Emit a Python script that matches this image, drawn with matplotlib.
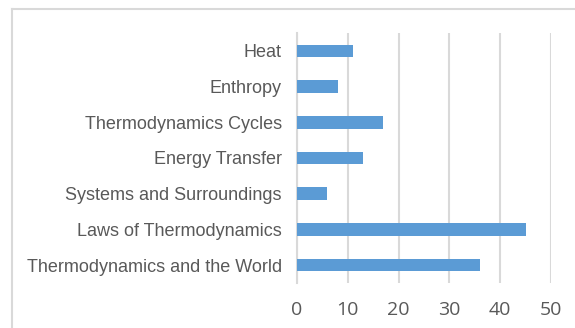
import matplotlib.pyplot as plt
from matplotlib.lines import Line2D

# Topics and counts, listed bottom to top
topics = ["Thermodynamics and the World", "Laws of Thermodynamics",
          "Systems and Surroundings", "Energy Transfer",
          "Thermodynamics Cycles", "Enthropy", "Heat"]
counts = [36, 45, 6, 13, 17, 8, 11]
xticks = [0, 10, 20, 30, 40, 50]

W, H = 575, 328
fig = plt.figure(figsize=(W / 100, H / 100), dpi=100)
ax = fig.add_axes([297 / W, 1 - 283 / H, (551 - 297) / W, (283 - 33) / H])

ax.barh(range(len(topics)), counts, height=0.35, color="#5b9bd5", zorder=3)
ax.set_ylim(-0.5, len(topics) - 0.5)
ax.set_xlim(0, 50)
ax.set_xticks(xticks)
ax.set_yticks(range(len(topics)))
ax.set_yticklabels(topics, fontfamily="Liberation Sans", fontsize=13.0, color="#595959")
ax.set_xticklabels([str(t) for t in xticks], fontfamily="Open Sans", fontsize=14, color="#595959")
ax.tick_params(axis="both", length=0)
ax.tick_params(axis="y", pad=11)
ax.tick_params(axis="x", pad=13)

ax.grid(axis="x", color="#d9d9d9", linewidth=1.5, zorder=0)
for s in ["top", "right", "bottom"]:
    ax.spines[s].set_visible(False)
ax.spines["left"].set_color("#d9d9d9")
ax.spines["left"].set_linewidth(1.5)

# chart border (left and top edges)
fig.add_artist(Line2D([12 / W, 12 / W], [0, 1 - 9 / H], color="#d9d9d9", lw=1.5))
fig.add_artist(Line2D([12 / W, 1], [1 - 9 / H, 1 - 9 / H], color="#d9d9d9", lw=1.5))

fig.savefig("out.png", dpi=100)
